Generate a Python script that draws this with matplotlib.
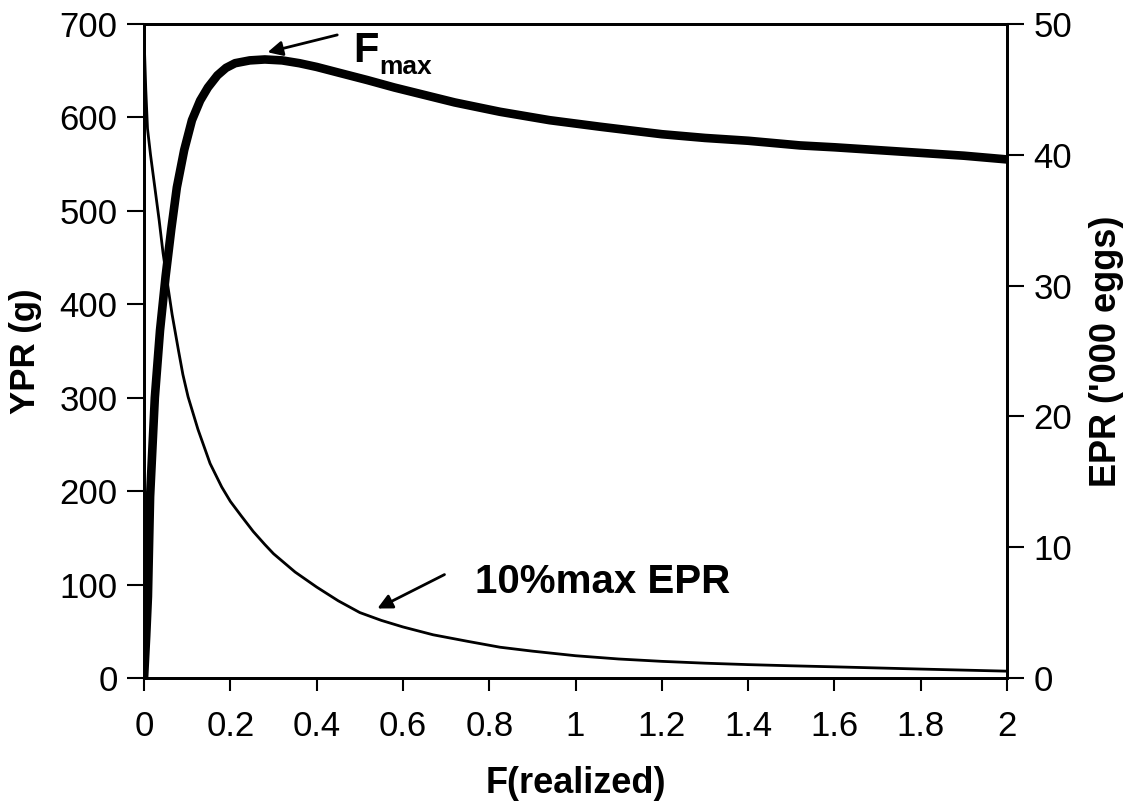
import matplotlib
matplotlib.use("Agg")
import matplotlib.pyplot as plt

plt.rcParams['font.family'] = ['Liberation Sans', 'DejaVu Sans']

# YPR (g) vs F(realized) - left axis
ypr_f = [0.0, 0.005, 0.009, 0.014, 0.025, 0.037, 0.05, 0.063, 0.076, 0.093, 0.111,
         0.13, 0.148, 0.17, 0.19, 0.211, 0.245, 0.28, 0.32, 0.36, 0.40, 0.45,
         0.517, 0.58, 0.65, 0.72, 0.825, 0.94, 1.057, 1.2, 1.3, 1.4, 1.52, 1.6,
         1.7, 1.8, 1.9, 2.0]
ypr_val = [0, 45, 87, 194, 300, 372, 430, 480, 525, 565, 597,
           618, 632, 645, 653, 658, 661, 662, 661, 658, 654, 648,
           640, 632, 624, 616, 606, 597, 590, 582, 578, 575, 570, 568,
           565, 562, 559, 555]

# EPR ('000 eggs) vs F(realized) - right axis
epr_f = [0.0, 0.004, 0.008, 0.015, 0.025, 0.035, 0.044, 0.055, 0.065, 0.08, 0.09,
         0.102, 0.125, 0.153, 0.18, 0.2, 0.225, 0.253, 0.28, 0.3, 0.35, 0.4,
         0.45, 0.5, 0.55, 0.6, 0.67, 0.75, 0.825, 0.9, 1.0, 1.1, 1.2, 1.3, 1.4,
         1.5, 1.6, 1.8, 2.0]
epr_val = [49, 45, 42, 40, 37.5, 35, 32.5, 30, 27.8, 25, 23.2,
           21.5, 19, 16.4, 14.6, 13.5, 12.4, 11.2, 10.2, 9.5, 8.1, 6.95,
           5.9, 5.0, 4.4, 3.9, 3.3, 2.8, 2.35, 2.05, 1.7, 1.45, 1.27, 1.13, 1.02,
           0.93, 0.85, 0.68, 0.52]

x_ticks = [0, 0.2, 0.4, 0.6, 0.8, 1.0, 1.2, 1.4, 1.6, 1.8, 2.0]
x_ticklabels = ['0', '0.2', '0.4', '0.6', '0.8', '1', '1.2', '1.4', '1.6', '1.8', '2']
ypr_ticks = [0, 100, 200, 300, 400, 500, 600, 700]
epr_ticks = [0, 10, 20, 30, 40, 50]

fig = plt.figure(figsize=(11.36, 8.07), dpi=100)
ax1 = fig.add_axes([0.1268, 0.1599, 0.8865 - 0.1268, 0.9703 - 0.1599])
ax2 = ax1.twinx()

ax1.plot(ypr_f, ypr_val, color='black', lw=6.2, solid_capstyle='butt', solid_joinstyle='round')
ax2.plot(epr_f, epr_val, color='black', lw=2.0, solid_joinstyle='round')

ax1.set_xlim(0, 2)
ax1.set_ylim(0, 700)
ax2.set_ylim(0, 50)

ax1.set_xticks(x_ticks)
ax1.set_xticklabels(x_ticklabels)
ax1.set_yticks(ypr_ticks)
ax2.set_yticks(epr_ticks)

for ax in (ax1, ax2):
    for s in ax.spines.values():
        s.set_linewidth(2.0)

ax1.tick_params(axis='x', direction='out', length=9, width=1.5, pad=14, labelsize=25)
ax1.tick_params(axis='y', direction='out', length=12, width=1.5, pad=7, labelsize=25)
ax2.tick_params(axis='y', direction='out', length=12, width=1.5, pad=7, labelsize=25)

ax1.set_xlabel('F(realized)', fontsize=26, fontweight='bold')
ax1.xaxis.set_label_coords(0.5, -0.135)
ax1.set_ylabel('YPR (g)', fontsize=25, fontweight='bold')
ax1.yaxis.set_label_coords(-0.118, 0.5)
ax2.set_ylabel("EPR ('000 eggs)", fontsize=26, fontweight='bold', labelpad=12)

# Annotations
ax1.annotate('', xy=(0.280, 669), xytext=(0.454, 689),
             arrowprops=dict(arrowstyle='-|>', color='black', lw=2,
                             mutation_scale=22), annotation_clip=False)
ax1.text(0.484, 659, 'F', fontsize=30, fontweight='bold', ha='left', va='baseline')
ax1.text(0.545, 646, 'max', fontsize=19, fontweight='bold', ha='left', va='baseline')

ax1.annotate('', xy=(0.535, 73), xytext=(0.702, 112),
             arrowprops=dict(arrowstyle='-|>', color='black', lw=2,
                             mutation_scale=22))
ax1.text(0.767, 91, '10%max EPR', fontsize=29, fontweight='bold', ha='left', va='baseline')

fig.savefig('out.png', dpi=100)
